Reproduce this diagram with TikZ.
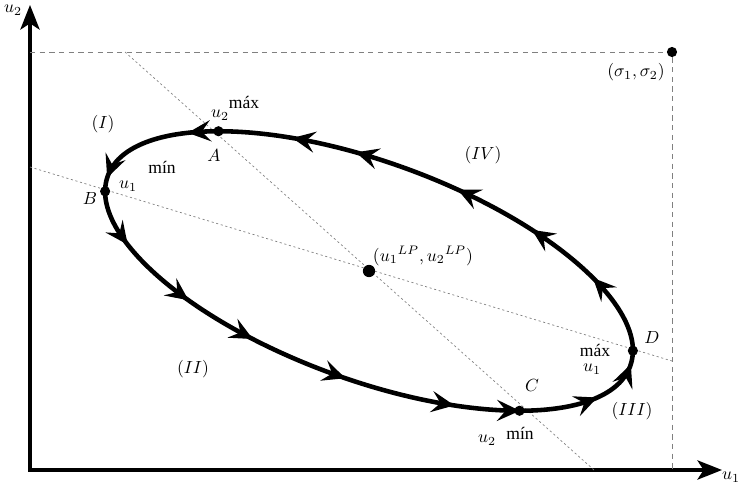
\documentclass[tikz,border=0pt]{standalone}
\usepackage{amsmath}
\usepackage{fontspec}
\setmainfont{Liberation Serif}
\usetikzlibrary{arrows.meta,calc}

\begin{document}
\begin{tikzpicture}[x=0.02cm,y=0.02cm,>=Stealth]
\tikzset{ax/.style={line width=1.8pt,{Stealth[length=14pt,width=11pt,inset=3.5pt]}-{Stealth[length=14pt,width=11pt,inset=3.5pt]}},
  orbit/.style={line width=2.6pt},
  flow/.style={line width=2.6pt,-{Stealth[length=13pt,width=12pt,inset=5pt]}},
  guide/.style={gray,line width=0.4pt,dash pattern=on 1.2pt off 1.5pt},
  lim/.style={gray,line width=0.5pt,dash pattern=on 3pt off 2.5pt},
  dot/.style={circle,fill=black,inner sep=0pt,minimum size=5.8pt},
  lbl/.style={inner sep=1pt}}
\useasboundingbox (0,0) rectangle (738,488);
% axes
\coordinate (O) at (30,18);
\coordinate (ytop) at (30,483);
\coordinate (xend) at (722,18);
\draw[ax] (ytop) -- (O) -- (xend);
\node[lbl] (u2ax) at (13,478) {$u_2$};
\node[lbl] (u1ax) at (731,11) {$u_1$};
% (sigma_1, sigma_2)
\node[dot] (S) at (672,436) {};
\draw[lim] (S -| O) -- (S) -- (S |- O);
\node[lbl] (Slbl) at (636,416) {$(\sigma_1, \sigma_2)$};
% guide lines through the centre
\coordinate (P) at (369,217);
\coordinate (g1a) at (125,436);
\coordinate (g1b) at (594,18);
\coordinate (g2a) at (30,321);
\coordinate (g2b) at (672,127);
\draw[guide] (g1a) -- (g1b);
\draw[guide] (g2a) -- (g2b);
% orbit
\begin{scope}[shift={(P)},rotate=-20]
  \draw[orbit] (0,0) ellipse [x radius=278,y radius=109];
  \foreach \t in {1,40,60,78.5,101,115,141.5,181,212,235,252,273,297,313,338}
    \draw[flow] (\t-3:278 and 109) -- (\t:278 and 109);
  \node[dot] (A) at (132.9:278 and 109) {};
  \node[dot] (B) at (188.1:278 and 109) {};
  \node[dot] (C) at (312.9:278 and 109) {};
  \node[dot] (D) at (8.1:278 and 109) {};
\end{scope}
\node[dot,minimum size=7pt] (Pd) at (P) {};
\node[lbl] (Plbl) at (423,232) {$(u_1{}^{LP}, u_2{}^{LP})$};
% labels
\node[lbl] (Alb) at (214,333) {$A$};
\node[lbl] (Blb) at (90,290) {$B$};
\node[lbl] (Clb) at (532,103) {$C$};
\node[lbl] (Dlb) at (652,151) {$D$};
\node[lbl] (r1) at (103,364) {$(I)$};
\node[lbl] (r2) at (193,119) {$(II)$};
\node[lbl] (r3) at (632,77) {$(III)$};
\node[lbl] (r4) at (483,333) {$(IV)$};
\node[lbl] (u2max) at (220,373) {$u_2$};
\node[lbl] (max2) at (244,386) {máx};
\node[lbl] (min1) at (162,321) {mín};
\node[lbl] (u1min) at (128,302) {$u_1$};
\node[lbl] (max1) at (595,138) {máx};
\node[lbl] (u1max) at (592,119) {$u_1$};
\node[lbl] (u2min) at (487,48) {$u_2$};
\node[lbl] (min2) at (520,55) {mín};
\end{tikzpicture}
\end{document}
